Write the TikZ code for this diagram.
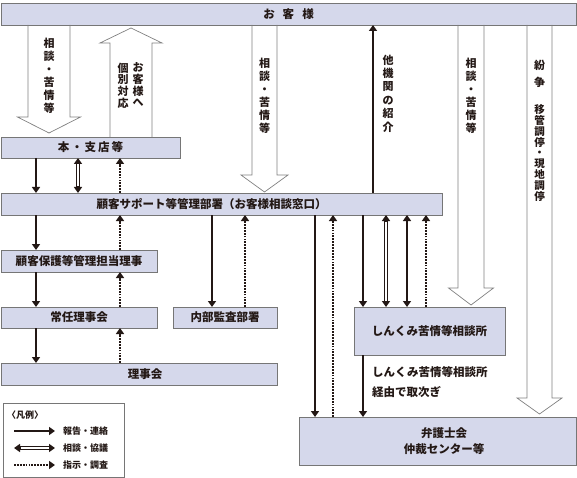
\documentclass[tikz,border=0pt]{standalone}
\usepackage{fontspec}
\setmainfont{Noto Sans CJK JP}
\usetikzlibrary{arrows.meta,calc}

\definecolor{boxfill}{HTML}{D5D8EB}
\definecolor{boxline}{HTML}{767676}
\definecolor{arrline}{HTML}{808080}
\definecolor{ink}{HTML}{231815}

\newcommand{\boxfont}{\fontsize{11.5}{14}\selectfont\bfseries}
\newcommand{\legfont}{\fontsize{9}{11}\selectfont\bfseries}

\newcommand{\openarrow}[7]{%
  \draw[openarr] (#1-#4,0 |- #2) -- ($(#1-#4,0 |- #3)+(0,#6)$) -- ($(#1-#5,0 |- #3)+(0,#6)$)
    -- ($(#1,0 |- #3)+(0,#7)$) -- ($(#1+#5,0 |- #3)+(0,#6)$) -- ($(#1+#4,0 |- #3)+(0,#6)$) -- (#1+#4,0 |- #2);}

\begin{document}
\begin{tikzpicture}[x=1pt,y=-1pt,
    box/.style={draw=boxline,fill=boxfill,line width=0.8pt,inner sep=0pt,outer sep=0pt,text=ink,font=\boxfont},
    vtext/.style={align=center,inner sep=0pt,anchor=north,text=ink},
    openarr/.style={draw=arrline,line width=0.7pt,line join=miter},
    report/.style={draw=ink,line width=1.8pt,-{Triangle[length=6pt,width=8pt]}},
    twoway/.style={draw=ink,line width=1.8pt,{Triangle[length=6pt,width=8pt]}-{Triangle[length=6pt,width=8pt]}},
    consult/.style={draw=ink,line width=3.4pt,{Triangle[length=6pt,width=8pt]}-{Triangle[length=6pt,width=8pt]},
      postaction={draw=white,line width=1.6pt,-,shorten <=6.5pt,shorten >=6.5pt}},
    order/.style={draw=ink,line width=2.4pt,dash pattern=on 1.8pt off 1.1pt,-{Triangle[length=6pt,width=8pt]}}]

  \useasboundingbox (0,0) rectangle (577,478);

  \begin{scope}[every node/.style={box}]
    \node[minimum width=575pt,minimum height=22pt] (cust)     at (288.5,14)  {お\hspace{8pt}客\hspace{8pt}様};
    \node[minimum width=179pt,minimum height=21pt] (branch)   at (90.5,147.5) {本\,・\,支\,店\,等};
    \node[minimum width=441pt,minimum height=22pt] (support)  at (221.5,204) {顧客サポート等管理部署（お客様相談窓口）\hspace*{20pt}};
    \node[minimum width=156pt,minimum height=22pt] (director) at (79,261)    {顧客保護等管理担当理事};
    \node[minimum width=156pt,minimum height=21pt] (standing) at (79,317.5)  {常任理事会};
    \node[minimum width=276pt,minimum height=22pt] (board)    at (139,374)   {\hspace*{12pt}理事会};
    \node[minimum width=104pt,minimum height=21pt] (audit)    at (225,317.5) {内部監査部署};
    \node[minimum width=151pt,minimum height=48pt] (shinkumi) at (429.5,331) {しんくみ苦情等相談所};
    \node[minimum width=277pt,minimum height=48pt,align=center,font=\fontsize{11.5}{16}\selectfont\bfseries]
                                                   (bar)      at (437.5,441) {\hspace*{13pt}弁護士会\\\hspace*{13pt}仲裁センター等};
  \end{scope}

  \openarrow{49}{cust.south}{branch.north}{21}{31.5}{-20}{-4}
  \openarrow{131}{branch.north}{cust.south}{21}{31}{18}{3}
  \openarrow{264.5}{cust.south}{support.north}{12.5}{23.5}{-18}{-1}
  \openarrow{471}{cust.south}{shinkumi.north}{13}{22.5}{-19}{-2}
  \openarrow{539.5}{cust.south}{bar.north}{12.5}{22.5}{-19}{-3}

  \begin{scope}[every node/.style={vtext,font=\fontsize{11}{13}\selectfont\bfseries}]
    \node (talk1)   at (49,37.5)    {相\\談\\・\\苦\\情\\等};
    \node[font=\fontsize{11}{11.7}\selectfont\bfseries] (visit1) at (138,62.5) {お\\客\\様\\へ};
    \node[font=\fontsize{11}{11.7}\selectfont\bfseries] (visit2) at (123,62.5) {個\\別\\対\\応};
    \node (talk2)   at (264.5,57.5) {相\\談\\・\\苦\\情\\等};
    \node[font=\fontsize{11}{13.4}\selectfont\bfseries] (refer) at (388,54.5) {他\\機\\関\\の\\紹\\介};
    \node (talk3)   at (471,57.5)   {相\\談\\・\\苦\\情\\等};
    \node[font=\fontsize{11}{17}\selectfont\bfseries] (dispute) at (539.5,59.5) {紛\\争};
    \node[font=\fontsize{10.5}{10.8}\selectfont\bfseries] (mediate) at (539.5,104.5) {移\\管\\調\\停\\・\\現\\地\\調\\停};
  \end{scope}

  \begin{scope}[every edge/.style={draw}]
    \path (36,0 |- branch.south)     edge[report]  (36,0 |- support.north);
    \path (78,0 |- branch.south)     edge[consult] (78,0 |- support.north);
    \path (120,0 |- support.north)   edge[order]   (120,0 |- branch.south);
    \path (36,0 |- support.south)    edge[report]  (36,0 |- director.north);
    \path (120,0 |- director.north)  edge[order]   (120,0 |- support.south);
    \path (36,0 |- director.south)   edge[report]  (36,0 |- standing.north);
    \path (120,0 |- standing.north)  edge[order]   (120,0 |- director.south);
    \path (36,0 |- standing.south)   edge[report]  (36,0 |- board.north);
    \path (120,0 |- board.north)     edge[order]   (120,0 |- standing.south);
    \path (212,0 |- support.south)   edge[report]  (212,0 |- audit.north);
    \path (245,0 |- audit.north)     edge[order]   (245,0 |- support.south);
    \path (315,0 |- support.south)   edge[report]  (315,0 |- bar.north);
    \path (333,0 |- bar.north)       edge[order]   (333,0 |- support.south);
    \path (363,0 |- support.south)   edge[report]  (363,0 |- shinkumi.north);
    \path (386,0 |- support.south)   edge[consult] (386,0 |- shinkumi.north);
    \path (407,0 |- support.south)   edge[twoway]  (407,0 |- shinkumi.north);
    \path (426,0 |- shinkumi.north)  edge[order]   (426,0 |- support.south);
    \path (363,0 |- shinkumi.south)  edge[report]  (363,0 |- bar.north);
    \path (373,0 |- support.north)   edge[report]  (373,0 |- cust.south);
  \end{scope}

  \node[anchor=north west,align=left,inner sep=0pt,text=ink,font=\fontsize{11.5}{20}\selectfont\bfseries]
    (via) at (372,366) {しんくみ苦情等相談所\\経由で取次ぎ};

  \node[draw=boxline,line width=0.8pt,minimum width=121pt,minimum height=74pt,inner sep=0pt] (legend) at (63.5,440) {};
  \node[anchor=west,inner sep=0pt,text=ink,font=\legfont] (legtitle) at (7,415) {〈凡例〉};

  \coordinate (k1a) at (14,431);
  \coordinate (k1b) at (55,431);
  \coordinate (k2a) at (14,448);
  \coordinate (k2b) at (55,448);
  \coordinate (k3a) at (14,465);
  \coordinate (k3b) at (55,465);

  \begin{scope}[every node/.style={anchor=west,inner sep=0pt,text=ink,font=\legfont}]
    \path (k1a) edge[report]  (k1b);
    \path (k2a) edge[consult] (k2b);
    \path (k3a) edge[order]   (k3b);
    \node (key1) at (63,431) {報告・連絡};
    \node (key2) at (63,448) {相談・協議};
    \node (key3) at (63,465) {指示・調査};
  \end{scope}

\end{tikzpicture}
\end{document}
